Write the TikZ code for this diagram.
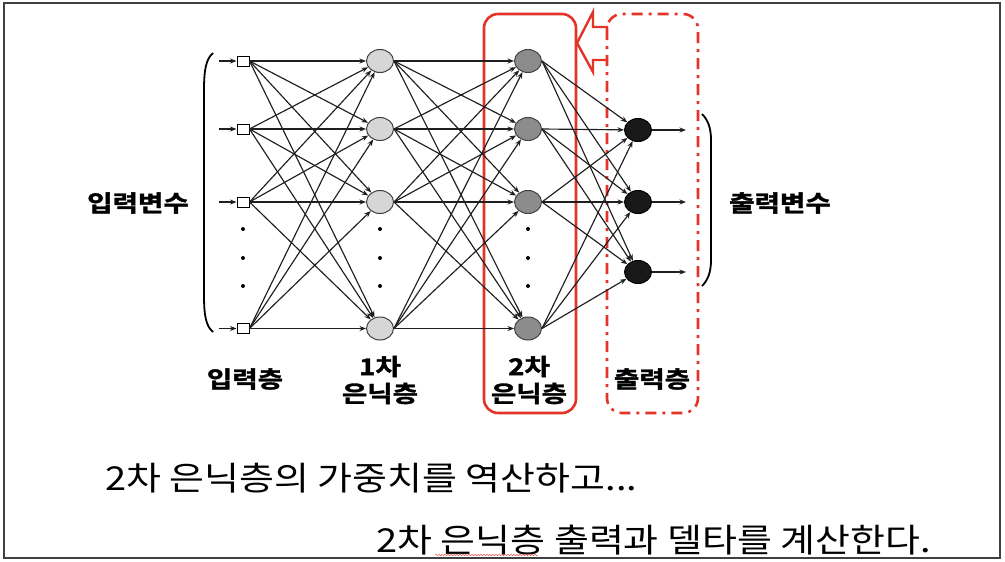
\documentclass[tikz,border=0pt]{standalone}
\usepackage{fontspec}
\setmainfont{Noto Sans CJK KR}
\newfontfamily\krb[FakeBold=1.5]{Noto Sans CJK KR Bold}
\usetikzlibrary{arrows.meta,shapes.geometric,decorations.pathmorphing}
\definecolor{redbox}{RGB}{228,52,40}
\newcommand{\wide}[2]{\scalebox{#1}[1]{#2}}
\begin{document}
\begin{tikzpicture}[x=1pt,y=-1pt,
  inbox/.style={draw, fill=white, minimum width=12pt, minimum height=10pt, inner sep=0pt, line width=1pt},
  hidA/.style={ellipse, draw=black!75, fill=black!16, minimum width=27pt, minimum height=23pt, inner sep=0pt, line width=1pt},
  hidB/.style={ellipse, draw=black!75, fill=black!45, minimum width=27pt, minimum height=23pt, inner sep=0pt, line width=1pt},
  outn/.style={ellipse, draw=black, fill=black!90, minimum width=27pt, minimum height=23pt, inner sep=0pt, line width=1pt},
  conn/.style={-{Stealth[length=6.5pt,width=5pt]}, line width=1.15pt, draw=black!88},
  lbl/.style={font=\krb\fontsize{23}{27}\selectfont, align=center, inner sep=0pt},
  dotm/.style={circle, fill=black, inner sep=0pt, minimum size=4pt},
  bigtxt/.style={font=\fontsize{33}{36}\selectfont, inner sep=0pt}
]
\useasboundingbox (0,0) rectangle (1005,562);
\fill[white] (0,0) rectangle (1005,562);
\draw[line width=1.6pt, black!75] (4,3) rectangle (1000,558);

% red boxes
\draw[redbox, line width=2.6pt, rounded corners=14pt] (484,14) rectangle (576,413);
\draw[redbox, line width=2.6pt, rounded corners=15pt, dash pattern=on 11pt off 6pt on 3pt off 6pt] (607,14) rectangle (698,413);
\draw[redbox, line width=2.4pt, line join=miter] (608,27) -- (593,27) -- (593,12) -- (577,43) -- (593,72) -- (593,60) -- (608,60);

% nodes
\foreach \i/\y in {1/61,2/129,3/202,4/328.5}{
  \node[inbox] (i\i) at (243,\y) {};
  \node[hidA] (h\i) at (380,\y) {};
  \node[hidB] (g\i) at (528,\y) {};
  \coordinate (s\i) at (219,\y);
}
\foreach \k/\y in {1/130,2/202,3/272}{
  \node[outn] (o\k) at (638,\y) {};
  \coordinate (e\k) at (686,\y);
}
% dots
\foreach \x/\c in {243/a,380/b,528/c}{
  \foreach \y/\n in {229/1,258/2,286/3}{
    \node[dotm] (d\c\n) at (\x,\y) {};
  }
}
% connections
\foreach \i in {1,...,4}{
  \draw[conn] (s\i) -- (i\i);
  \foreach \j in {1,...,4}{
    \draw[conn] (i\i.east) -- (h\j);
    \draw[conn] (h\i.east) -- (g\j);
  }
  \foreach \k in {1,2,3}{
    \draw[conn] (g\i.east) -- (o\k);
  }
}
\foreach \k in {1,2,3}{
  \draw[conn] (o\k.east) -- (e\k);
}

% brackets
\draw[line width=1.8pt] (213,53) .. controls (206,59) and (204,70) .. (204,90) -- (204,295) .. controls (204,316) and (206,326) .. (213,332);
\draw[line width=1.8pt] (702,114) .. controls (708,120) and (711,128) .. (711,140) -- (711,260) .. controls (711,272) and (708,280) .. (702,286);

% labels
\node[lbl] (lin) at (138,203) {\wide{1.2}{입력변수}};
\node[lbl] (lout) at (780,203) {\wide{1.2}{출력변수}};
\node[lbl] (l1) at (245,379) {\wide{1.2}{입력층}};
\node[lbl] (l2) at (380,380) {\wide{1.2}{1차}\\\wide{1.2}{은닉층}};
\node[lbl] (l3) at (529,380) {\wide{1.2}{2차}\\\wide{1.2}{은닉층}};
\node[lbl] (l4) at (652,379) {\wide{1.2}{출력층}};

% bottom text
\node[bigtxt, anchor=west] (t1) at (105,478) {\wide{1.15}{2차 은닉층의 가중치를 역산하고...}};
\node[bigtxt, anchor=east] (t2) at (931,540) {\wide{1.15}{2차 은닉층 출력과 델타를 계산한다.}};
\draw[redbox!80, line width=0.5pt, decorate, decoration={snake, amplitude=0.8pt, segment length=3pt}] (435,555) -- (538,555);
\end{tikzpicture}
\end{document}
